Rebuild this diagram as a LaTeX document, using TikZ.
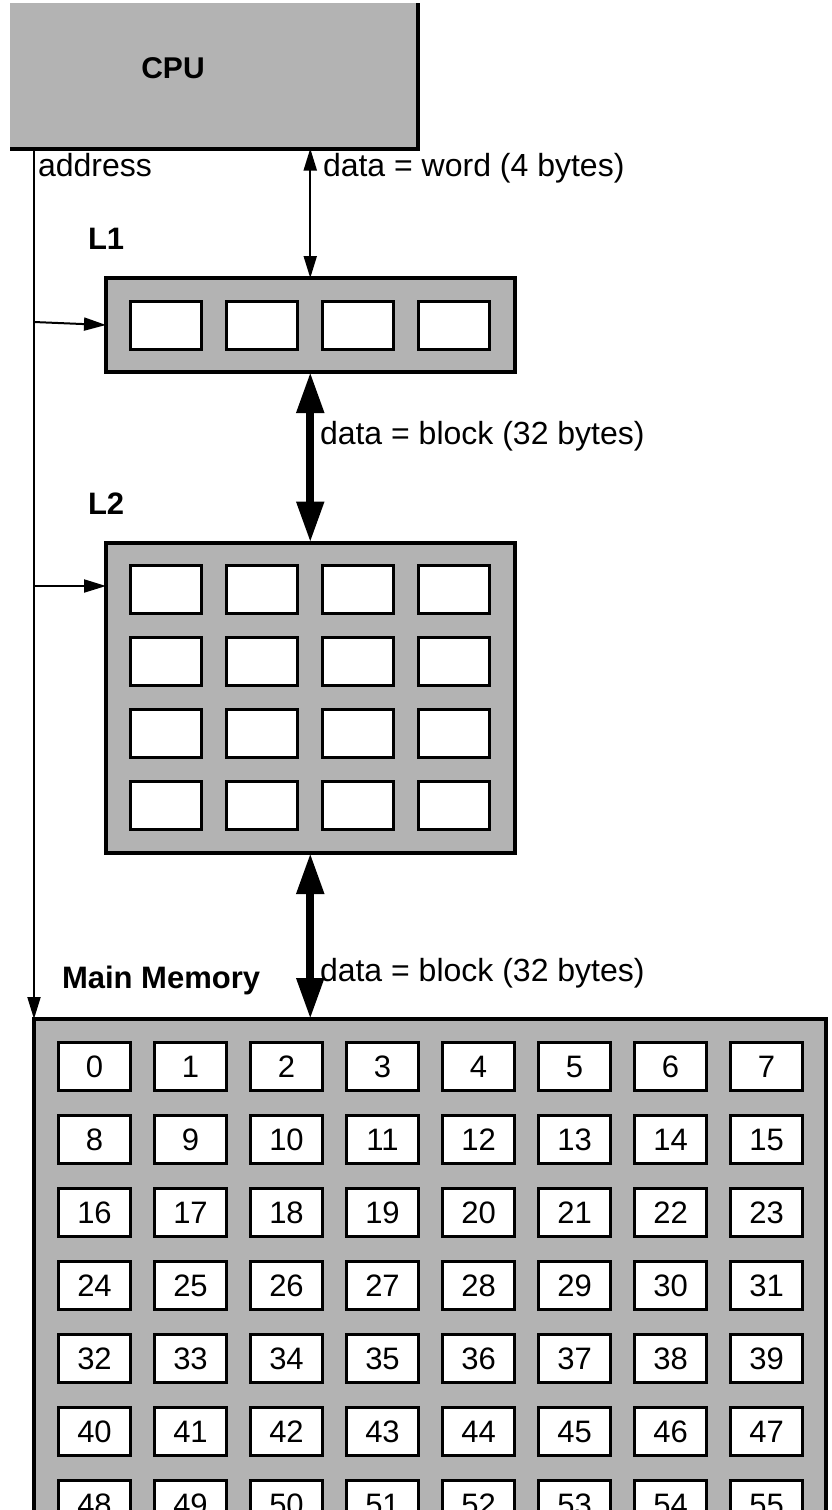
\documentclass[tikz,border=0pt]{standalone}
\usepackage{fontspec}
\setmainfont{Liberation Sans}
\usetikzlibrary{arrows.meta}
\definecolor{boxgray}{RGB}{179,179,179}
\begin{document}
\begin{tikzpicture}[x=1pt,y=-1pt,
  membox/.style={draw, line width=4pt, fill=boxgray, inner sep=0pt, outer sep=0pt},
  cell/.style={draw, line width=3pt, fill=white, inner sep=0pt, outer sep=0pt,
    minimum width=71.5pt, minimum height=47.5pt, font=\fontsize{31}{36}\selectfont},
  lbl/.style={inner sep=0pt, outer sep=0pt, font=\fontsize{32}{38}\selectfont, anchor=base west},
  blbl/.style={inner sep=0pt, outer sep=0pt, font=\bfseries\fontsize{31}{36}\selectfont, anchor=base west},
  thinarr/.style={line width=2pt},
  smalltip/.tip={Triangle[length=22pt,width=13pt]},
  bigtip/.tip={Triangle[length=41pt,width=26pt]},
  bigarr/.style={line width=8pt, bigtip-bigtip}
]
\useasboundingbox (0,0) rectangle (832,1510);
\clip (0,0) rectangle (832,1510);

% CPU
\node[fill=boxgray, inner sep=0pt, outer sep=0pt, minimum width=407.5pt, minimum height=145.5pt] (cpu) at (213.75,75.75) {};
\draw[line width=4pt] (cpu.north east) -- (cpu.south east) -- (cpu.south west);
\node[blbl, font=\bfseries\fontsize{30}{36}\selectfont, anchor=center] (cpulbl) at (173,68) {CPU};

% L1
\node[membox, minimum width=408.5pt, minimum height=94pt] (L1) at (310.25,325) {};
\foreach \i in {0,...,3} {
  \node[cell] (l1c\i) at (166+96*\i,325.3) {};
}
\node[blbl] (l1lbl) at (88,249) {L1};

% L2
\node[membox, minimum width=408.5pt, minimum height=310.5pt] (L2) at (310.25,697.75) {};
\foreach \j in {0,...,3} {
  \foreach \i in {0,...,3} {
    \node[cell] (l2c\i\j) at (166+96*\i,589.4+72*\j) {};
  }
}
\node[blbl] (l2lbl) at (88,514) {L2};

% Main memory
\node[membox, minimum width=792pt, minimum height=521pt] (mm) at (430,1279.5) {};
\foreach \j in {0,...,6} {
  \foreach \i in {0,...,7} {
    \pgfmathtruncatemacro{\n}{8*\j+\i}
    \node[cell] (mc\n) at (94.5+96*\i,1066.7+73*\j) {\n};
  }
}
\node[blbl] (mmlbl) at (62,988) {Main Memory};

% address bus
\coordinate (addrtop) at (34,148.5);
\coordinate (a1) at (34,322);
\coordinate (a2) at (34,586);
\draw[thinarr, -smalltip] (addrtop) -- (addrtop |- mm.north);
\draw[thinarr, -smalltip] (a1) -- (L1.west);
\draw[thinarr, -smalltip] (a2) -- (a2 -| L2.west);
\node[lbl] (addrlbl) at (38,176) {address};

% data paths
\draw[thinarr, smalltip-smalltip] (cpu.south -| L1.north) -- (L1.north);
\node[lbl] (d1lbl) at (323,176) {data = word (4 bytes)};
\draw[bigarr] (L1.south) -- (L2.north);
\node[lbl] (d2lbl) at (320,444) {data = block (32 bytes)};
\draw[bigarr] (L2.south) -- (L2.south |- mm.north);
\node[lbl] (d3lbl) at (320,981) {data = block (32 bytes)};
\end{tikzpicture}
\end{document}
